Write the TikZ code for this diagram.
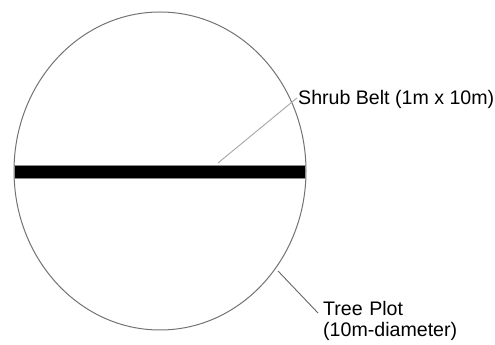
\documentclass[tikz,border=0pt]{standalone}
\usepackage{fontspec}
\setmainfont{Liberation Sans}
\begin{document}
\begin{tikzpicture}[x=1pt,y=1pt,
  plot/.style={draw=black!55, line width=1pt},
  belt/.style={fill=black, draw=black!45, line width=0.8pt},
  leader/.style={line width=0.9pt},
  lbl/.style={inner sep=0pt, font=\fontsize{19.6}{21}\selectfont, align=left}]
\useasboundingbox (0,0) rectangle (495,345);
\fill[white] (0,0) rectangle (495,345);
\draw[plot] (160,174) ellipse [x radius=146, y radius=159];
\path[belt] (14,167) rectangle (305,180);
\coordinate (sb) at (218,182);
\coordinate (tp) at (278,74);
\node[lbl, anchor=base west] (shrub) at (298,240) {Shrub Belt (1m x 10m)};
\node[lbl, anchor=north west, text width=170pt] (tree) at (323,44) {Tree Plot\\(10m-diameter)};
\draw[leader, draw=black!35] (sb) -- ([xshift=-1pt,yshift=2pt]shrub.west);
\draw[leader, draw=black!60] (tp) -- ([xshift=-5pt,yshift=-12pt]tree.north west);
\end{tikzpicture}
\end{document}
